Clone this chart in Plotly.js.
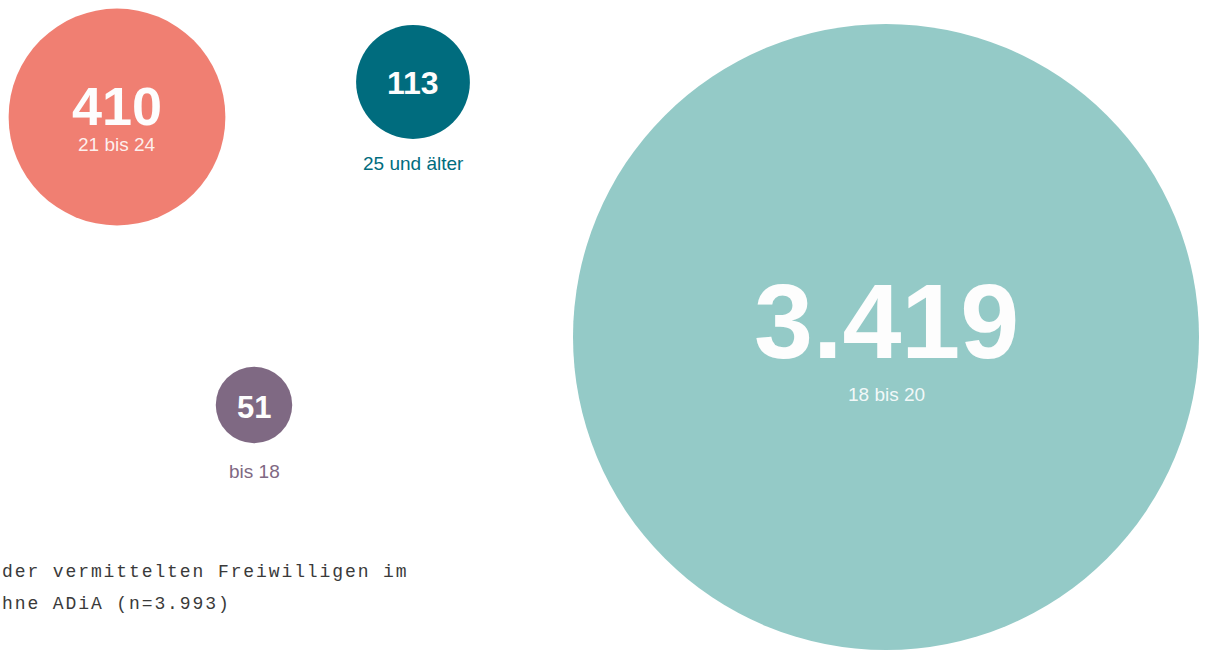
<!DOCTYPE html>
<html>
<head>
<meta charset="utf-8">
<script src="https://cdn.plot.ly/plotly-3.0.1.min.js"></script>
<style>
html,body{margin:0;padding:0;background:#fff;overflow:hidden;}
#chart{width:1208px;height:651px;}
text.annotation-text[style*="Mono"]{letter-spacing:1.9px;}
</style>
</head>
<body>
<div id="chart"></div>
<script>
// Data
var categories = ["21 bis 24", "25 und älter", "bis 18", "18 bis 20"];
var counts = [410, 113, 51, 3419];
var totalN = 3993;
var noteLines = ["der vermittelten Freiwilligen im", "hne ADiA (n=3.993)"];

// Layout (pixel positions of bubble centres, colours, text sizes)
var posX = [117, 413, 254, 886];
var posY = [117, 82, 405, 337];
var colors = ["#F07F72", "#006C7E", "#7F6983", "#94CAC7"];
var labelInside = [true, false, false, true];
var labelColors = ["rgba(255,255,255,0.88)", "#006C7E", "#7F6983", "rgba(255,255,255,0.9)"];
var numSizes = [54, 32, 31, 106];
var numOffsets = [-11, 1, 2, -16];   // number centre relative to bubble centre
var labOffsets = [27, 81, 66, 57];   // label centre relative to bubble centre

function fmtDE(v){
  return String(v).replace(/\B(?=(\d{3})+(?!\d))/g, ".");
}

var maxRadius = 313;
var maxVal = Math.max.apply(null, counts);
var sizeref = maxVal / (2 * maxRadius * maxRadius);

var trace = {
  type: "scatter",
  mode: "markers",
  x: posX,
  y: posY,
  text: categories,
  cliponaxis: false,
  hoverinfo: "skip",
  marker: {
    size: counts,
    sizemode: "area",
    sizeref: sizeref,
    color: colors,
    opacity: 1,
    line: {width: 0}
  }
};

var annotations = [];
for (var i = 0; i < counts.length; i++) {
  annotations.push({
    x: posX[i], y: posY[i] + numOffsets[i], xref: "x", yref: "y",
    text: "<b>" + fmtDE(counts[i]) + "</b>",
    showarrow: false, xanchor: "center", yanchor: "middle",
    font: {family: "Liberation Sans, Arial, sans-serif", size: numSizes[i], color: "#FDFDFD"}
  });
  annotations.push({
    x: posX[i], y: posY[i] + labOffsets[i], xref: "x", yref: "y",
    text: categories[i],
    showarrow: false, xanchor: "center", yanchor: "middle",
    font: {family: "Liberation Sans, Arial, sans-serif", size: 19, color: labelColors[i]}
  });
}
annotations.push({
  x: 0, y: 572, xref: "x", yref: "y",
  text: noteLines[0],
  showarrow: false, xanchor: "left", yanchor: "middle", align: "left",
  font: {family: "Liberation Mono, DejaVu Sans Mono, monospace", size: 18, color: "#3A3A3A"}
});
annotations.push({
  x: 0, y: 604, xref: "x", yref: "y",
  text: noteLines[1],
  showarrow: false, xanchor: "left", yanchor: "middle", align: "left",
  font: {family: "Liberation Mono, DejaVu Sans Mono, monospace", size: 18, color: "#3A3A3A"}
});

var layout = {
  width: 1208, height: 651,
  margin: {l: 0, r: 0, t: 0, b: 0},
  paper_bgcolor: "#ffffff", plot_bgcolor: "#ffffff",
  showlegend: false,
  xaxis: {range: [0, 1208], visible: false, fixedrange: true},
  yaxis: {range: [651, 0], visible: false, fixedrange: true},
  annotations: annotations
};

Plotly.newPlot("chart", [trace], layout, {displayModeBar: false, staticPlot: true});
</script>
</body>
</html>
